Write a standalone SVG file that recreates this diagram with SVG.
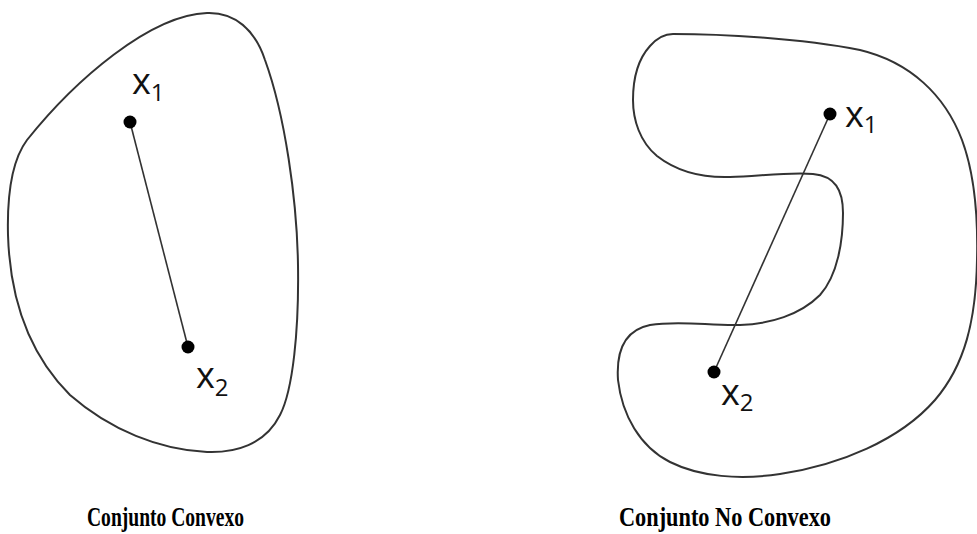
<svg xmlns="http://www.w3.org/2000/svg" width="977" height="534" viewBox="0 0 977 534">
<style>
.set{fill:none;stroke:#333;stroke-width:2}
.seg{fill:none;stroke:#333;stroke-width:1.6}
.dot{fill:#000}
.lbl{font-family:"Open Sans","DejaVu Sans",sans-serif;font-size:36px;fill:#111}
.sub{font-size:24px}
.cap{font-family:"Liberation Serif","Times New Roman",serif;font-weight:bold;font-size:28px;fill:#000}
</style>
<rect width="977" height="534" fill="#fff"/>
<g id="convex-set">
<path class="set" d="M 207,13 C 235,12 255,30 265,60 C 285,115 297,200 298,265 C 299,330 293,390 280,415 C 265,445 235,453 207,452 C 160,450 110,430 70,395 C 30,355 10,300 8,235 C 7,195 12,160 27,140 C 75,80 150,15 207,13 Z"/>
</g>
<g id="nonconvex-set">
<path class="set" d="M 673,34 C 720,34 800,38 860,50 C 910,62 945,95 962,140 C 975,175 978,220 977,260 C 976,320 965,365 935,400 C 900,440 840,465 780,474 C 740,480 700,477 670,462 C 640,447 622,415 618,380 C 616,350 625,330 650,325 C 680,320 710,326 740,325 C 770,324 800,315 820,295 C 838,275 843,240 843,213 C 843,190 835,176 813,174 C 790,172 760,176 730,177 C 700,178 675,170 657,156 C 640,142 633,120 633,100 C 633,75 640,57 650,46 C 657,38 664,34 673,34 Z"/>
</g>
<g id="connectors">
<line class="seg" x1="130" y1="122" x2="188" y2="347"/>
<line class="seg" x1="830" y1="114" x2="714" y2="372"/>
</g>
<g id="convex-x1">
<circle class="dot" cx="130" cy="122" r="6.5"/>
<text class="lbl" x="132" y="94">x<tspan class="sub" dy="7">1</tspan></text>
</g>
<g id="convex-x2">
<circle class="dot" cx="188" cy="347" r="6.5"/>
<text class="lbl" x="196" y="388">x<tspan class="sub" dy="8">2</tspan></text>
</g>
<g id="nonconvex-x1">
<circle class="dot" cx="830" cy="114" r="6.5"/>
<text class="lbl" x="845" y="127">x<tspan class="sub" dy="6">1</tspan></text>
</g>
<g id="nonconvex-x2">
<circle class="dot" cx="714" cy="372" r="6.5"/>
<text class="lbl" x="721" y="405">x<tspan class="sub" dy="6">2</tspan></text>
</g>
<g id="captions">
<text class="cap" x="87" y="526" textLength="157" lengthAdjust="spacingAndGlyphs">Conjunto Convexo</text>
<text class="cap" x="619" y="526" textLength="212" lengthAdjust="spacingAndGlyphs">Conjunto No Convexo</text>
</g>
</svg>
